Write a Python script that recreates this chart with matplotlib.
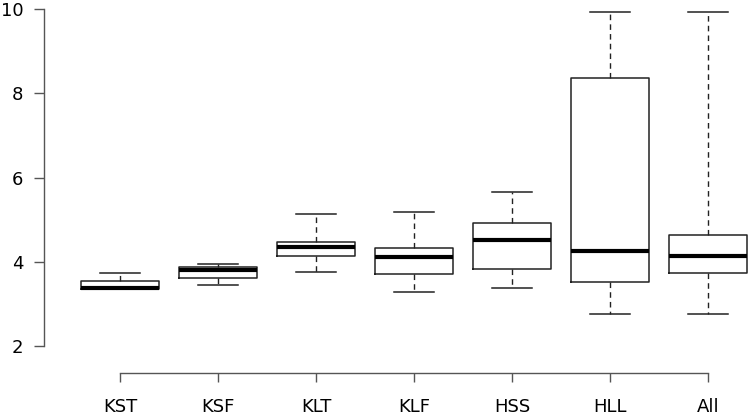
import numpy as np
import matplotlib.pyplot as plt

# values
labels = ['KST', 'KSF', 'KLT', 'KLF', 'HSS', 'HLL', 'All']
whislo = [3.35, 3.44, 3.76, 3.28, 3.37, 2.75, 2.75]
q1 = [3.35, 3.62, 4.14, 3.72, 3.84, 3.53, 3.74]
med = [3.37, 3.80, 4.36, 4.12, 4.53, 4.26, 4.14]
q3 = [3.55, 3.88, 4.46, 4.32, 4.92, 8.36, 4.64]
whishi = [3.73, 3.96, 5.13, 5.19, 5.66, 9.94, 9.94]
yticks = [2, 4, 6, 8, 10]

stats = []
for i in range(len(labels)):
    stats.append(dict(label=labels[i], whislo=whislo[i], q1=q1[i], med=med[i],
                      q3=q3[i], whishi=whishi[i], fliers=[]))

W, H = 750, 419
fig = plt.figure(figsize=(W / 100, H / 100), dpi=100)
# axes placed so that the R-style plot region matches the picture
left_px, bottom_px = 43.6, 349.4
ax = fig.add_axes([left_px / W, (H - bottom_px) / H, 1 - left_px / W, bottom_px / H])

line_col = '#222222'
ax.bxp(stats, positions=np.arange(1, len(labels) + 1), widths=0.8, capwidths=0.4,
       showfliers=False, patch_artist=False,
       boxprops=dict(color=line_col, linewidth=1.1),
       medianprops=dict(color='black', linewidth=3.0, solid_capstyle='butt'),
       whiskerprops=dict(color=line_col, linewidth=1.0, linestyle=(0, (4, 3))),
       capprops=dict(color=line_col, linewidth=1.1))

ax.set_xlim(0.22, 0.22 + (W - left_px) / 98.0)
ax.set_ylim(1.92, 10.22)

for s in ['top', 'right']:
    ax.spines[s].set_visible(False)
axis_col = '#555555'
ax.spines['left'].set_bounds(2, 10)
ax.spines['bottom'].set_bounds(1, 7)
ax.spines['bottom'].set_position(('outward', 16.8))
for s in ['left', 'bottom']:
    ax.spines[s].set_color(axis_col)
    ax.spines[s].set_linewidth(1.0)

ax.set_yticks(yticks)
ax.set_yticklabels([str(t) for t in yticks])
ax.set_xticks(np.arange(1, len(labels) + 1))
ax.set_xticklabels(labels)
ax.tick_params(axis='y', length=7.2, width=1.0, color=axis_col, pad=7.5, labelsize=13)
# labels sit at the bottom edge, kept just inside the figure
ax.tick_params(axis='x', length=6.5, width=1.0, color=axis_col, pad=11.5, labelsize=13)

fig.savefig('out.png', dpi=100)
